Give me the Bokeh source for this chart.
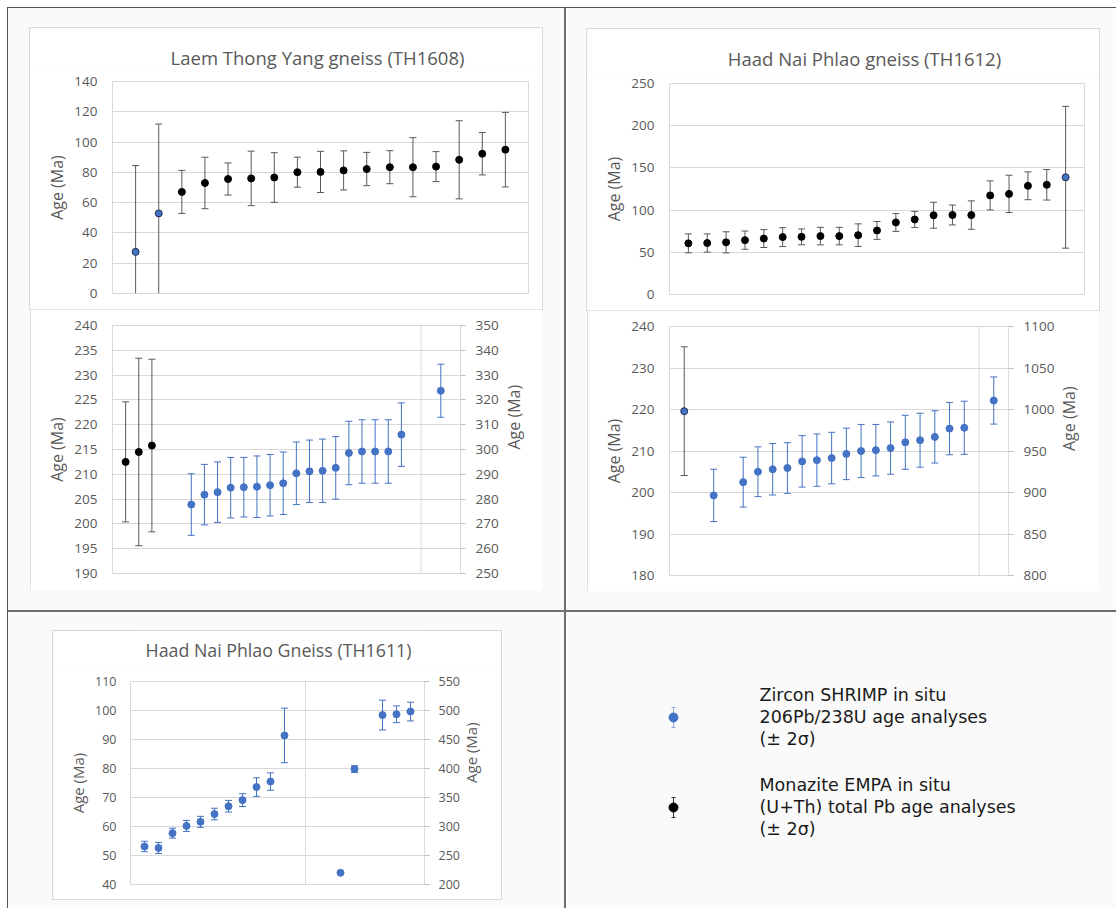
import math
from bokeh.plotting import figure
from bokeh.models import (Range1d, LinearAxis, FixedTicker, Whisker, TeeHead,
                          ColumnDataSource, Span, Spacer)
from bokeh.layouts import row, column
from bokeh.embed import file_html
from bokeh.resources import INLINE
from bokeh.core.properties import value

# ---------------- data ----------------
TL_TITLE = "Laem Thong Yang gneiss (TH1608)"
TR_TITLE = "Haad Nai Phlao gneiss (TH1612)"
BL_TITLE = "Haad Nai Phlao Gneiss (TH1611)"
Y_LABEL = "Age (Ma)"

# Laem Thong Yang gneiss (TH1608) - upper chart
tl_zr_x = [1, 2]
tl_zr_age = [27.5, 52.9]
tl_zr_err = [57.0, 59.0]
tl_mz_x = [3, 4, 5, 6, 7, 8, 9, 10, 11, 12, 13, 14, 15, 16, 17]
tl_mz_age = [67.1, 73.0, 75.6, 76.0, 76.6, 80.1, 80.3, 81.3, 82.2, 83.4, 83.4, 83.8, 88.3, 92.3, 95.0]
tl_mz_err = [14.2, 17.0, 10.6, 18.0, 16.4, 9.9, 13.6, 12.9, 11.0, 10.9, 19.5, 9.9, 25.8, 14.0, 24.6]
tl_yticks = [0, 20, 40, 60, 80, 100, 120, 140]

# Laem Thong Yang gneiss (TH1608) - lower chart
ml_mz_x = [1, 2, 3]
ml_mz_age = [212.5, 214.5, 215.8]
ml_mz_err = [12.1, 18.9, 17.4]
ml_zr_x = [6, 7, 8, 9, 10, 11, 12, 13, 14, 15, 16, 17, 18, 19, 20, 21, 22]
ml_zr_age = [203.9, 205.9, 206.4, 207.3, 207.4, 207.5, 207.8, 208.2, 210.2, 210.6,
             210.7, 211.3, 214.3, 214.6, 214.6, 214.6, 218.0]
ml_zr_err = [6.2, 6.1, 6.1, 6.1, 6.0, 6.2, 6.2, 6.3, 6.3, 6.3, 6.4, 6.3, 6.4, 6.4, 6.4, 6.4, 6.4]
ml_zr2_x = [25]
ml_zr2_age = [323.7]
ml_zr2_err = [10.7]
ml_split = [23.5]
ml_yticks = [190, 195, 200, 205, 210, 215, 220, 225, 230, 235, 240]
ml_y2ticks = [250, 260, 270, 280, 290, 300, 310, 320, 330, 340, 350]

# Haad Nai Phlao gneiss (TH1612) - upper chart
tr_mz_x = list(range(1, 21))
tr_mz_age = [60.6, 61.0, 61.8, 64.4, 66.3, 68.0, 68.3, 69.2, 69.2, 70.3,
             75.9, 85.4, 88.9, 93.9, 94.2, 94.1, 117.4, 119.2, 128.8, 130.0]
tr_mz_err = [11.2, 10.8, 12.5, 10.8, 10.6, 11.2, 9.4, 10.4, 10.4, 13.4,
             10.6, 10.6, 9.6, 15.4, 11.8, 16.8, 17.2, 22.1, 16.5, 18.1]
tr_zr_x = [21]
tr_zr_age = [138.9]
tr_zr_err = [84.0]
tr_yticks = [0, 50, 100, 150, 200, 250]

# Haad Nai Phlao gneiss (TH1612) - lower chart
mr_mz_x = [1]
mr_mz_age = [219.6]
mr_mz_err = [15.5]
mr_zr_x = [3, 5, 6, 7, 8, 9, 10, 11, 12, 13, 14, 15, 16, 17, 18, 19, 20]
mr_zr_age = [199.3, 202.5, 205.0, 205.6, 205.9, 207.5, 207.8, 208.3, 209.3, 210.0,
             210.2, 210.7, 212.1, 212.6, 213.4, 215.4, 215.6]
mr_zr_err = [6.3, 6.0, 6.0, 6.2, 6.1, 6.2, 6.3, 6.2, 6.2, 6.4, 6.2, 6.3, 6.5, 6.5, 6.3, 6.3, 6.4]
mr_zr2_x = [22]
mr_zr2_age = [1010.8]
mr_zr2_err = [28.4]
mr_split = [21]
mr_yticks = [180, 190, 200, 210, 220, 230, 240]
mr_y2ticks = [800, 850, 900, 950, 1000, 1050, 1100]

# Haad Nai Phlao Gneiss (TH1611)
bl_zr_x = [1, 2, 3, 4, 5, 6, 7, 8, 9, 10, 11]
bl_zr_age = [53.1, 52.6, 57.7, 60.2, 61.6, 64.3, 67.0, 69.1, 73.6, 75.5, 91.4]
bl_zr_err = [1.8, 1.9, 1.7, 1.9, 1.9, 2.0, 2.0, 2.2, 3.2, 3.0, 9.4]
bl_zr2_x = [15, 16, 18, 19, 20]
bl_zr2_age = [220.2, 399.0, 492.1, 493.5, 498.2]
bl_zr2_err = [1.0, 5.8, 25.7, 14.4, 16.2]
bl_split = [12.5]
bl_yticks = [40, 50, 60, 70, 80, 90, 100, 110]
bl_y2ticks = [200, 250, 300, 350, 400, 450, 500, 550]

LEGEND_LINES = [["Zircon SHRIMP in situ", "206Pb/238U age analyses", "(\u00b1 2\u03c3)"],
                ["Monazite EMPA in situ", "(U+Th) total Pb age analyses", "(\u00b1 2\u03c3)"]]

# ---------------- style ----------------
BLUE = "#4472C4"
NAVY = "#1f2d4d"
ERR_GRAY = "#595959"
GRID = "#d9d9d9"
TXT = "#595959"
BG = "#fafafa"
EDGE = "#555555"
SEP = "#6e6e6e"
FONT = "Open Sans"
INNER_OUTLINE = {"outline": "1px solid " + GRID, "outline-offset": "-1px"}
OUTER_OUTLINE = {"box-shadow": "0 0 0 1px " + GRID}


def chart(w, h, borders, xr, yr, yticks, tick_size="13.5px", label_size="16px",
          tick_standoff=15, label_standoff=3, box_outline=True):
    p = figure(width=w, height=h, x_range=Range1d(*xr), y_range=Range1d(*yr),
               output_backend="svg", toolbar_location=None, tools="",
               min_border_left=borders[0], min_border_right=borders[1],
               min_border_top=borders[2], min_border_bottom=borders[3],
               background_fill_color="white", border_fill_color="white",
               outline_line_color=GRID, outline_line_width=1)
    if box_outline:
        p.styles = INNER_OUTLINE
    p.xaxis.visible = False
    p.xgrid.visible = False
    ax = p.yaxis[0]
    ax.ticker = FixedTicker(ticks=yticks)
    ax.axis_line_color = None
    ax.major_tick_line_color = None
    ax.minor_tick_line_color = None
    ax.major_tick_out = 0
    ax.major_label_text_font = FONT
    ax.major_label_text_font_size = tick_size
    ax.major_label_text_color = TXT
    ax.major_label_standoff = tick_standoff
    ax.axis_label = Y_LABEL
    ax.axis_label_text_font = FONT
    ax.axis_label_text_font_size = label_size
    ax.axis_label_text_font_style = "normal"
    ax.axis_label_text_color = TXT
    ax.axis_label_standoff = label_standoff
    p.ygrid.grid_line_color = GRID
    p.ygrid.ticker = FixedTicker(ticks=yticks)
    return p


def title_strip(w, h, borders, text, xc, yc, size):
    # the strip shares its frame edges with the chart below it (column alignment)
    fw = w - borders[0] - borders[1]
    t = figure(width=w, height=h, x_range=Range1d(0, fw), y_range=Range1d(h, 0),
               output_backend="svg", toolbar_location=None, tools="",
               min_border_left=borders[0], min_border_right=borders[1],
               min_border_top=0, min_border_bottom=0,
               background_fill_color="white", border_fill_color="white",
               outline_line_color=None)
    t.axis.visible = False
    t.grid.visible = False
    t.text([xc], [yc], text=[text], text_font=value(FONT), text_font_size=size,
           text_color=TXT, text_align="center", text_baseline="middle")
    return t


def right_axis(p, yr, yticks, tick_size="13.5px", label_size="16px", tick_standoff=10, label_standoff=12):
    p.extra_y_ranges = {"r": Range1d(*yr)}
    ra = LinearAxis(y_range_name="r", ticker=FixedTicker(ticks=yticks))
    ra.axis_line_color = GRID
    ra.major_tick_line_color = "#bfbfbf"
    ra.major_tick_out = 5
    ra.major_tick_in = 0
    ra.minor_tick_line_color = None
    ra.major_label_text_font = FONT
    ra.major_label_text_font_size = tick_size
    ra.major_label_text_color = TXT
    ra.major_label_standoff = tick_standoff
    ra.axis_label = Y_LABEL
    ra.axis_label_text_font = FONT
    ra.axis_label_text_font_size = label_size
    ra.axis_label_text_font_style = "normal"
    ra.axis_label_text_color = TXT
    ra.axis_label_standoff = label_standoff
    if "axis_label_orientation" in ra.properties():
        ra.axis_label_orientation = math.pi / 2
    p.add_layout(ra, "right")


def series(p, x, age, err, fill, line, err_color, ymin, rname=None):
    kw = {} if rname is None else {"y_range_name": rname}
    lo = [a - e for a, e in zip(age, err)]
    hi = [a + e for a, e in zip(age, err)]
    groups = [[i for i in range(len(x)) if lo[i] >= ymin],
              [i for i in range(len(x)) if lo[i] < ymin]]
    for gi, idx in enumerate(groups):
        if not idx:
            continue
        src = ColumnDataSource(dict(x=[x[i] for i in idx],
                                    lo=[max(lo[i], ymin) for i in idx],
                                    hi=[hi[i] for i in idx]))
        wk = Whisker(base="x", lower="lo", upper="hi", source=src,
                     line_color=err_color, line_width=1,
                     upper_head=TeeHead(size=7, line_color=err_color, line_width=1),
                     lower_head=(TeeHead(size=7, line_color=err_color, line_width=1) if gi == 0 else None),
                     **kw)
        p.add_layout(wk)
    p.scatter(x, age, size=7, fill_color=fill, line_color=line, line_width=1, **kw)


def split_line(p, loc):
    for v in loc:
        p.add_layout(Span(location=v, dimension="height", line_color=GRID, line_width=1))


# ---- top-left (title strip + chart)
TL_B = (82, 14)
tl_head = title_strip(512, 43, TL_B, TL_TITLE, 205, 29, "18.5px")
tl = chart(512, 238, TL_B + (10, 16), (0, 18), (0, 140), tl_yticks, box_outline=False)
series(tl, tl_mz_x, tl_mz_age, tl_mz_err, "black", "black", ERR_GRAY, 0)
series(tl, tl_zr_x, tl_zr_age, tl_zr_err, BLUE, NAVY, ERR_GRAY, 0)
tl_box = column(tl_head, tl, styles=OUTER_OUTLINE)

# ---- middle-left
ml = chart(512, 281, (82, 82, 16, 17), (0, 26.5), (190, 240), ml_yticks)
right_axis(ml, (250, 350), ml_y2ticks)
split_line(ml, ml_split)
series(ml, ml_mz_x, ml_mz_age, ml_mz_err, "black", "black", ERR_GRAY, 190)
series(ml, ml_zr_x, ml_zr_age, ml_zr_err, BLUE, BLUE, BLUE, 190)
series(ml, ml_zr2_x, ml_zr2_age, ml_zr2_err, BLUE, BLUE, BLUE, 250, rname="r")

# ---- top-right
TR_B = (82, 15)
tr_head = title_strip(512, 44, TR_B, TR_TITLE, 195, 29, "18.5px")
tr = chart(512, 237, TR_B + (10, 16), (0, 22), (0, 250), tr_yticks, box_outline=False)
series(tr, tr_mz_x, tr_mz_age, tr_mz_err, "black", "black", ERR_GRAY, 0)
series(tr, tr_zr_x, tr_zr_age, tr_zr_err, BLUE, NAVY, ERR_GRAY, 0)
tr_box = column(tr_head, tr, styles=OUTER_OUTLINE)

# ---- middle-right
mr = chart(512, 281, (82, 91, 16, 16), (0, 23), (180, 240), mr_yticks)
right_axis(mr, (800, 1100), mr_y2ticks)
split_line(mr, mr_split)
series(mr, mr_mz_x, mr_mz_age, mr_mz_err, BLUE, NAVY, ERR_GRAY, 180)
series(mr, mr_zr_x, mr_zr_age, mr_zr_err, BLUE, BLUE, BLUE, 180)
series(mr, mr_zr2_x, mr_zr2_age, mr_zr2_err, BLUE, BLUE, BLUE, 800, rname="r")

# ---- bottom-left
BL_B = (77, 77)
bl_head = title_strip(448, 40, BL_B, BL_TITLE, 148, 18, "17.8px")
bl = chart(448, 228, BL_B + (10, 15), (0, 21), (40, 110), bl_yticks,
           tick_size="12.5px", label_size="15px", tick_standoff=14, label_standoff=4,
           box_outline=False)
right_axis(bl, (200, 550), bl_y2ticks, tick_size="12.5px", label_size="15px", tick_standoff=9,
           label_standoff=8)
split_line(bl, bl_split)
series(bl, bl_zr_x, bl_zr_age, bl_zr_err, BLUE, BLUE, BLUE, 40)
series(bl, bl_zr2_x, bl_zr2_age, bl_zr2_err, BLUE, BLUE, BLUE, 200, rname="r")
bl_box = column(bl_head, bl, styles=OUTER_OUTLINE)

# ---- legend panel
LW, LH = 550, 296
lg = figure(width=LW, height=LH, x_range=Range1d(0, LW), y_range=Range1d(LH, 0),
            output_backend="svg", toolbar_location=None, tools="",
            min_border=0, background_fill_color=BG, border_fill_color=BG,
            outline_line_color=None)
lg.axis.visible = False
lg.grid.visible = False
leg_styles = [(BLUE, BLUE, "#8faadc"), ("black", "black", "#333333")]
for k, lines in enumerate(LEGEND_LINES):
    yc = 105 + 90 * k
    fill, line, ec = leg_styles[k]
    src = ColumnDataSource(dict(x=[107], lo=[yc - 10], hi=[yc + 10]))
    lg.add_layout(Whisker(base="x", lower="lo", upper="hi", source=src, line_color=ec,
                          line_width=1,
                          upper_head=TeeHead(size=4, line_color=ec, line_width=1),
                          lower_head=TeeHead(size=4, line_color=ec, line_width=1)))
    lg.scatter([107], [yc], size=9, fill_color=fill, line_color=line)
    lg.text([193] * len(lines), [yc - 23 + 22 * j for j in range(len(lines))], text=lines,
            text_font=value("DejaVu Sans"), text_font_size="17.5px", text_color="#1a1a1a",
            text_baseline="middle", text_align="left")


# ---------------- page layout ----------------
def sp(w, h, color=None):
    s = Spacer(width=w, height=h)
    if color:
        s.styles = {"background-color": color}
    return s


q_tl = column(sp(556, 20), row(sp(22, 281), tl_box, sp(22, 281)),
              row(sp(22, 281), ml, sp(22, 281)), sp(556, 20))
q_tr = column(sp(550, 21), row(sp(21, 281), tr_box, sp(17, 281)),
              row(sp(21, 281), mr, sp(17, 281)), sp(550, 19))
mid = row(sp(1, 602, EDGE), q_tl, sp(2, 602, SEP), q_tr)
hsep = row(sp(1, 2, EDGE), sp(1108, 2, SEP))
q_bl = column(sp(556, 19), row(sp(45, 268), bl_box, sp(63, 268)), sp(556, 9))
bot = row(sp(1, 296, EDGE), q_bl, sp(2, 296, SEP), lg)
inner = column(sp(1109, 1, EDGE), mid, hsep, bot, styles={"background-color": BG})
root = column(sp(1116, 7, "white"), row(sp(7, 901, "white"), inner),
              styles={"background-color": "white"})

open("out.html", "w").write(file_html(root, INLINE))
